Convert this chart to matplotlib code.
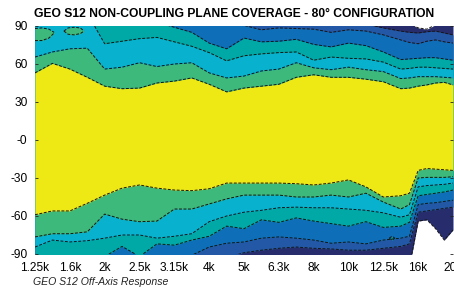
import matplotlib
matplotlib.use("Agg")
import matplotlib.pyplot as plt

# ---------------- data ----------------
title = "GEO S12 NON-COUPLING PLANE COVERAGE - 80\u00b0 CONFIGURATION"
footer = "GEO S12 Off-Axis Response"
bands = ["1.25k", "1.6k", "2k", "2.5k", "3.15k", "4k", "5k", "6.3k",
         "8k", "10k", "12.5k", "16k", "20k"]
angle_ticks = [90, 60, 30, 0, -30, -60, -90]
angle_labels = ["90", "60", "30", "-0", "-30", "-60", "-90"]

# frequency position (in 1/3-octave band index) of the sampled contour points
pos = [0, 0.5, 1, 1.5, 2, 2.5, 3, 3.5, 4, 4.5, 5, 5.5, 6, 6.5, 7, 7.5, 8, 8.5,
       9, 9.5, 10, 10.5, 10.75, 11, 11.25, 11.5, 11.75, 12]

# contour boundaries (angle, degrees), upper side, from inner (yellow) outward
up_yellow = [53, 60.5, 56, 49.5, 42.5, 40.5, 41, 45, 46.5, 49, 44, 38, 41, 42.5,
             44, 49.5, 51.5, 49.5, 49.5, 48, 46, 40.5, 41, 42.5, 43.5, 45, 45.5, 43.5]
up_green = [65.5, 69.5, 72, 72.5, 56, 57.5, 61, 58, 60, 61, 53, 49, 50.5, 54.5,
            56, 61, 57, 55.5, 57.5, 55.5, 54, 48.5, 49, 50, 50, 50, 49.5, 49]
up_cyan = [100, 100, 100, 100, 76, 78, 80, 81, 77.5, 74, 69, 62.5, 66.5, 68,
           69, 69.5, 63, 65.5, 64.5, 64, 61.5, 56, 56.5, 57.5, 57.5, 57, 56.5, 56]
up_teal = [110, 110, 110, 110, 110, 110, 110, 93, 89, 85, 76.5, 72, 80.5, 77.5,
           78, 79.5, 75.5, 73.5, 76.5, 74.5, 69.5, 63.5, 64, 64.5, 65, 65, 64, 63]
up_blue = [110] * 11 + [95, 90.5, 87, 88.5, 88, 87.5, 85, 87, 86, 83, 79, 77, 76,
                        78, 79, 77.5, 76.5]
up_midblue = [110] * 18 + [95, 91.5, 88.5, 86, 85, 84.5, 85.5, 86, 84.5, 83]
up_navy = [110] * 22 + [92, 88.5, 87.5, 91, 100, 110]

# lower side
lo_yellow = [-59, -56, -56, -50, -43.5, -38, -35.5, -38, -39.5, -40, -38.5, -34,
             -34, -34, -34, -34.5, -35.5, -34, -31.5, -37, -45, -44, -42, -24,
             -22.5, -23, -23.5, -24]
lo_green = [-76.5, -74, -74, -72.5, -58.5, -62.5, -64.5, -64, -54.5, -54.5, -50.5,
            -46.5, -43.5, -43.5, -43.5, -45, -45, -43.5, -45, -42, -49, -54.5,
            -51, -30, -29.5, -29.5, -29.5, -29]
lo_cyan = [-84.5, -79, -80.5, -79.5, -77.5, -75, -75, -77.5, -76, -74, -64.5, -60,
           -57, -55.5, -53.5, -53, -53.5, -53.5, -54.5, -55.5, -57.5, -61, -59,
           -37, -36, -35.5, -35, -34]
lo_teal = [-100, -100, -100, -95, -92, -84, -92, -82, -83, -79, -76, -68, -70, -63,
           -65, -61.5, -64, -66, -68, -64.5, -69, -68, -65, -44, -43, -42, -41, -39.5]
lo_blue = [-100] * 8 + [-94, -91, -84.5, -81.5, -80.5, -77.5, -76.5, -77.5, -79,
                        -81.5, -80.5, -82, -79, -77.5, -76, -51, -50, -49.5, -48.5, -47.5]
lo_midblue = [-100] * 11 + [-93, -89, -87, -85.5, -84.5, -85.5, -86, -87, -87,
                            -85.5, -84, -82, -57, -56, -55, -54, -53]
lo_navy = [-110] * 22 + [-100, -64, -63, -70, -79, -71]

# small closed islands: (x positions, lower angles, upper angles)
island_green1 = ([0, 0.2, 0.4, 0.55], [78.5, 78.5, 80.5, 84.5], [88, 88.5, 87.5, 85])
island_green2 = ([0.83, 0.95, 1.12, 1.3, 1.41], [86, 83.5, 83, 84, 86], [86, 88.5, 89, 88.5, 86])
island_teal = ([10.17, 10.25, 10.33], [-77.5, -79, -77.5], [-77.5, -76, -77.5])

# ---------------- style ----------------
c_navy = "#272d6c"
c_midblue = "#2358a6"
c_blue = "#0e6fb8"
c_teal = "#00a9a6"
c_cyan = "#08b2ce"
c_green = "#3db97b"
c_yellow = "#eee915"

layers = [
    (lo_navy, up_navy, c_navy),
    (lo_midblue, up_midblue, c_midblue),
    (lo_blue, up_blue, c_blue),
    (lo_teal, up_teal, c_teal),
    (lo_cyan, up_cyan, c_cyan),
    (lo_green, up_green, c_green),
    (lo_yellow, up_yellow, c_yellow),
]
islands = [(island_green1, c_green), (island_green2, c_green), (island_teal, c_teal)]

line_kw = dict(color="#151515", lw=0.7, ls=(0, (3, 1.6)))

fig = plt.figure(figsize=(4.54, 2.90), dpi=100)
ax = fig.add_axes([35 / 454, 36 / 290, 418 / 454, 228 / 290])
ax.set_facecolor("white")

for lo, hi, c in layers:
    ax.fill_between(pos, lo, hi, color=c, lw=0, zorder=1)
for (xs, lo, hi), c in islands:
    ax.fill_between(xs, lo, hi, color=c, lw=0, zorder=1)

for lo, hi, c in layers:
    ax.plot(pos, lo, **line_kw, zorder=2)
    ax.plot(pos, hi, **line_kw, zorder=2)
for (xs, lo, hi), c in islands:
    ax.plot(xs, lo, **line_kw, zorder=2)
    ax.plot(xs, hi, **line_kw, zorder=2)

ax.set_xlim(0, 12)
ax.set_ylim(-90, 90)
ax.set_xticks(range(len(bands)))
ax.set_xticklabels(bands, fontsize=8.6, family="Liberation Sans")
ax.set_yticks(angle_ticks)
ax.set_yticklabels(angle_labels, fontsize=8.6, family="Liberation Sans")
ax.tick_params(axis="x", length=0, pad=5.5)
ax.tick_params(axis="y", direction="in", length=2.5, width=0.6, color="#222222",
               pad=5.5, right=True)
for s in ax.spines.values():
    s.set_visible(False)

fig.text(234 / 454, 1 - 14 / 290, title, ha="center", va="center",
         fontsize=8.7, fontweight="bold", family="Liberation Sans")
fig.text(33 / 454, 1 - 282 / 290, footer, ha="left", va="center",
         fontsize=7.6, style="italic",
         family=["Liberation Sans Narrow", "Liberation Sans"], color="#222222")

fig.savefig("out.png", dpi=100)
